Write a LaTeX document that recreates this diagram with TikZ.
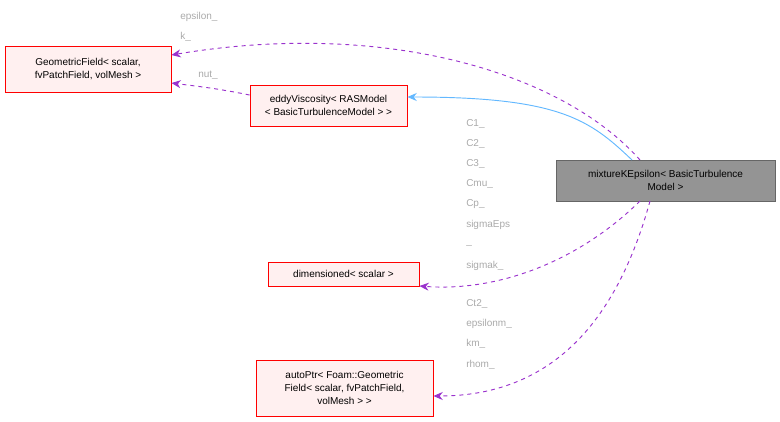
\documentclass[tikz,border=0pt]{standalone}
\usepackage{fontspec}
\setmainfont{Liberation Sans}
\usetikzlibrary{arrows.meta}
\definecolor{boxred}{HTML}{FF0000}
\definecolor{boxfill}{HTML}{FFF0F0}
\definecolor{edgepurple}{HTML}{9A32CD}
\definecolor{edgeblue}{HTML}{63B8FF}
\definecolor{lbl}{HTML}{AAAAAA}
\begin{document}
\begin{tikzpicture}[x=0.75pt,y=-0.75pt,font=\fontsize{7.5}{9.5}\selectfont,
 cls/.style={draw=boxred,fill=boxfill,align=center,inner sep=2pt,line width=0.6pt},
 main/.style={draw=black!60,fill=black!42,align=center,inner sep=2pt,line width=0.6pt},
 dep/.style={draw=edgepurple,dashed,-{Stealth[length=7pt,width=6pt]},line width=0.7pt},
 inh/.style={draw=edgeblue,-{Stealth[length=7pt,width=6pt]},line width=0.7pt},
 lab/.style={text=lbl,anchor=west,inner sep=0pt}]
\useasboundingbox (0,0) rectangle (780,421);
\node[cls,minimum width=166*0.75pt,minimum height=46*0.75pt] (gf) at (88,69) {GeometricField\textless{} scalar,\\ fvPatchField, volMesh \textgreater};
\node[cls,minimum width=157*0.75pt,minimum height=41*0.75pt] (ev) at (328.5,105.5) {eddyViscosity\textless{} RASModel\\ \textless{} BasicTurbulenceModel \textgreater{} \textgreater};
\node[main,minimum width=219*0.75pt,minimum height=41*0.75pt] (mk) at (665.5,180.5) {mixtureKEpsilon\textless{} BasicTurbulence\\ Model \textgreater};
\node[cls,minimum width=151*0.75pt,minimum height=24*0.75pt] (dm) at (343.5,274) {dimensioned\textless{} scalar \textgreater};
\node[cls,minimum width=177*0.75pt,minimum height=56*0.75pt] (ap) at (344.5,388) {autoPtr\textless{} Foam::Geometric\\ Field\textless{} scalar, fvPatchField,\\ volMesh \textgreater{} \textgreater};
\coordinate (mkA) at (640,160);
\coordinate (mkB) at (632,160);
\coordinate (mkC) at (640,201);
\coordinate (mkD) at (650,201);
\draw[dep] (mkA) .. controls (560,70) and (380,20) .. (gf.east |- 0,55);
\draw[dep] (ev.west |- 0,95) .. controls (215,88) and (195,86) .. (gf.east |- 0,83);
\draw[inh] (mkB) .. controls (590,120) and (560,97) .. (ev.east |- 0,97);
\draw[dep] (mkC) .. controls (580,260) and (500,292) .. (dm.east |- 0,286);
\draw[dep] (mkD) .. controls (620,310) and (560,396) .. (ap.east |- 0,396);
\node[lab] (l1) at (180,17) {epsilon\_};
\node[lab] (l2) at (180,37) {k\_};
\node[lab] (l3) at (198,75) {nut\_};
\foreach \t/\yy in {C1\_/124,C2\_/144,C3\_/164,Cmu\_/184,Cp\_/204,sigmaEps/225,\_/245,sigmak\_/266,Ct2\_/304,epsilonm\_/324,km\_/344,rhom\_/365}
  \node[lab] at (466,\yy) {\t};
\end{tikzpicture}
\end{document}
